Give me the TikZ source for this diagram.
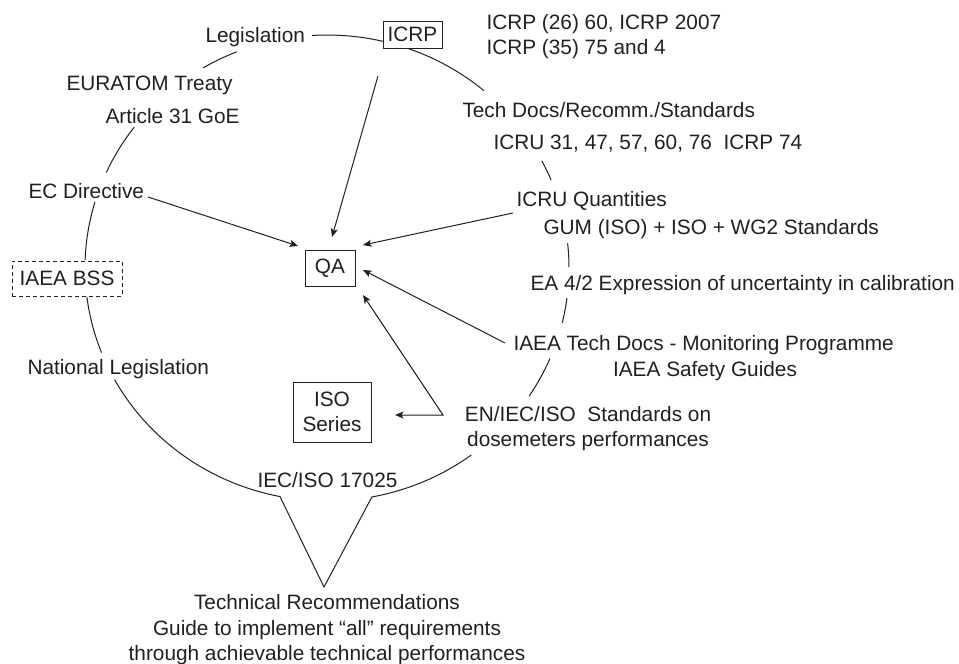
\documentclass[tikz,border=0pt]{standalone}
\usepackage{fontspec}
\setmainfont{Liberation Sans}
\usetikzlibrary{arrows.meta}
\definecolor{ink}{RGB}{35,31,32}
\newcommand\ringarc[2]{\draw[ring] (C) ++(#1:242pt and 233pt) arc[start angle=#1,end angle=#2,x radius=242pt,y radius=233pt];}
\begin{document}
\begin{tikzpicture}[x=1pt,y=1pt,color=ink,line width=1pt,
  lbl/.style={inner sep=0pt,font=\fontsize{20.8}{25}\selectfont},
  lw/.style={lbl,anchor=base west},
  lc/.style={lbl,anchor=base},
  box/.style={lbl,draw,fill=white,align=center},
  ring/.style={line width=1pt},
  tip/.tip={Stealth[length=8.5pt,width=7pt,inset=2pt]},
  arr/.style={line width=1pt,-tip}]
\useasboundingbox (0,0) rectangle (959,-664);
\coordinate (C) at (327,-268);
% the ring
\ringarc{93.5}{49.5}
\ringarc{27.4}{22.2}
\ringarc{6.1}{0.2}
\ringarc{-7.4}{-13.6}
\ringarc{-22.9}{-33.4}
\path (C) ++(-101.2:242pt and 233pt) coordinate (vl);
\coordinate (apex) at (324,-587);
\draw[ring,line join=miter] (C) ++(-53.4:242pt and 233pt) arc[start angle=-53.4,end angle=-79.3,x radius=242pt,y radius=233pt]
  -- (apex) -- (vl) arc[start angle=-101.2,end angle=-151.4,x radius=242pt,y radius=233pt];
\ringarc{201.3}{187.1}
\ringarc{178}{163.5}
\ringarc{155.8}{142.8}
\ringarc{120.8}{111.9}
% boxes
\node[box,minimum width=59pt,minimum height=27pt] (icrp) at (412.5,-34.5) {ICRP};
\node[box,minimum width=50pt,minimum height=36pt] (qa) at (330,-268.5) {QA};
\node[box,dashed,dash pattern=on 4pt off 3pt,minimum width=110pt,minimum height=35pt] (bss) at (67,-278.5) {IAEA BSS};
\node[box,minimum width=78pt,minimum height=60pt] (iso) at (332,-412) {ISO\\Series};
% labels
\node[lw] (leg) at (205,-42.4) {Legislation};
\node[lw] (icrpA) at (486,-29.4) {ICRP (26) 60, ICRP 2007};
\node[lw] (icrpB) at (486,-54.4) {ICRP (35) 75 and 4};
\node[lw] (eur) at (66,-90.4) {EURATOM Treaty};
\node[lw] (art) at (105,-123.4) {Article 31 GoE};
\node[lw] (tech) at (462,-117.4) {Tech Docs/Recomm./Standards};
\node[lw] (icru) at (493,-149.4) {ICRU 31, 47, 57, 60, 76\ \ ICRP 74};
\node[lw] (icruq) at (516,-206.4) {ICRU Quantities};
\node[lw] (gum) at (543,-234.4) {GUM (ISO) + ISO + WG2 Standards};
\node[lw] (ea) at (530,-290.4) {EA 4/2 Expression of uncertainty in calibration};
\node[lw] (iaea) at (513,-350.4) {IAEA Tech Docs - Monitoring Programme};
\node[lc] (safe) at (705,-376.4) {IAEA Safety Guides};
\node[lw] (ecd) at (28,-198.4) {EC Directive};
\node[lw] (nat) at (27,-374.4) {National Legislation};
\node[lc] (en) at (588,-421.4) {EN/IEC/ISO\ \ Standards on};
\node[lc] (dose) at (588,-446.4) {dosemeters performances};
\node[lw] (iec) at (257,-487.4) {IEC/ISO 17025};
\node[lc] (trA) at (327,-609.4) {Technical Recommendations};
\node[lc] (trB) at (327,-635.4) {Guide to implement “all” requirements};
\node[lc] (trC) at (327,-660.4) {through achievable technical performances};
% arrows
\coordinate (s1) at (378,-76);  \coordinate (e1) at (332,-237);
\coordinate (s2) at (148,-197); \coordinate (e2) at (298,-246);
\coordinate (s3) at (513,-213); \coordinate (e3) at (363,-245);
\coordinate (s4) at (505,-343); \coordinate (e4) at (363,-270);
\coordinate (c5) at (443,-415); \coordinate (e5) at (363,-295); \coordinate (f5) at (395,-415);
\draw[arr] (s1) -- (e1);
\draw[arr] (s2) -- (e2);
\draw[arr] (s3) -- (e3);
\draw[arr] (s4) -- (e4);
\draw[line width=1pt,tip-tip] (e5) -- (c5) -- (f5);
\end{tikzpicture}
\end{document}
